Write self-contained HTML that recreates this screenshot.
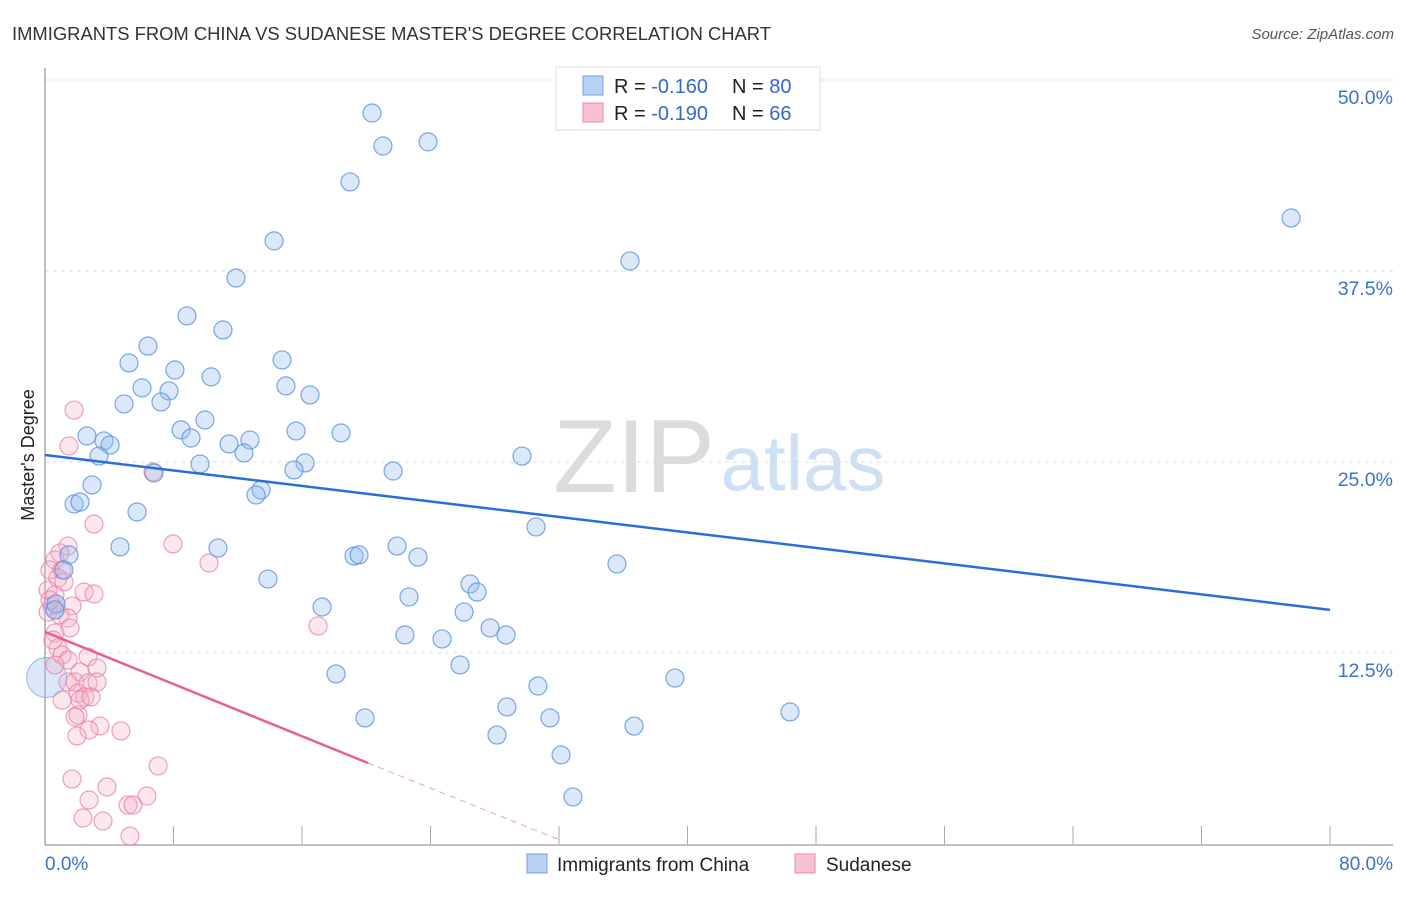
<!DOCTYPE html>
<html><head><meta charset="utf-8"><style>
body{margin:0;background:#fff;font-family:"Liberation Sans",sans-serif;}
svg text{font-family:"Liberation Sans",sans-serif;}
</style></head><body>
<svg id="chart" width="1406" height="892" viewBox="0 0 1406 892">
<text x="12" y="40" font-size="18.4" fill="#333">IMMIGRANTS FROM CHINA VS SUDANESE MASTER'S DEGREE CORRELATION CHART</text>
<text x="1394" y="39" font-size="15" fill="#555" font-style="italic" text-anchor="end">Source: ZipAtlas.com</text>
<g>
<text x="634" y="492" font-size="104" fill="#dcdcdc" font-family="Liberation Serif,serif" text-anchor="middle">ZIP</text>
<text x="803" y="490" font-size="78" fill="#cfe0f5" text-anchor="middle">atlas</text>
</g>
<g id="grid"></g>
<g id="axes"></g>
<g id="marks"></g>
<text transform="translate(34,455) rotate(-90)" font-size="18" fill="#222" text-anchor="middle">Master's Degree</text>
<g>
<rect x="556" y="67" width="264" height="63" fill="#fff" stroke="#ddd"/>
<rect x="583" y="76" width="20" height="19" fill="#b9d2f3" stroke="#6f9fe0"/>
<rect x="583" y="103" width="20" height="19" fill="#f9c2d3" stroke="#e88aaa"/>
<text x="614" y="93" font-size="20" fill="#222">R = <tspan fill="#3468cc">-0.160</tspan></text>
<text x="732" y="93" font-size="20" fill="#222">N = <tspan fill="#3468cc">80</tspan></text>
<text x="614" y="120" font-size="20" fill="#222">R = <tspan fill="#3468cc">-0.190</tspan></text>
<text x="732" y="120" font-size="20" fill="#222">N = <tspan fill="#3468cc"> 66</tspan></text>
</g>
<g>
<rect x="527" y="854" width="20" height="19" fill="#b9d2f3" stroke="#6f9fe0"/>
<text x="557" y="871" font-size="19" fill="#222">Immigrants from China</text>
<rect x="795" y="854" width="20" height="19" fill="#f9c2d3" stroke="#e88aaa"/>
<text x="826" y="871" font-size="19" fill="#222">Sudanese</text>
</g>
</svg>
<script>
const yTicks=[12.5,25,37.5,50];
const yTickLabels=["12.5%","25.0%","37.5%","50.0%"];
const xTicks=[0,8,16,24,32,40,48,56,64,72,80];
const xTickLabels=["0.0%","80.0%"];
const chinaX=[20.36,21.04,23.85,18.99,77.58,14.26,36.42,11.89,8.84,11.08,6.41,14.76,5.23,8.09,10.34,15.0,6.04,7.72,16.5,4.92,7.22,9.96,8.47,15.63,18.43,2.61,3.67,4.05,9.09,11.46,12.76,3.36,12.39,29.7,9.65,16.19,15.5,6.79,21.67,2.93,13.45,13.14,1.81,2.18,5.73,30.57,4.67,10.77,21.92,19.24,19.55,23.22,1.49,35.61,1.18,13.88,26.46,26.9,22.66,17.25,26.09,0.68,27.71,28.7,22.41,24.72,25.84,18.12,39.22,30.69,28.76,46.38,19.92,31.44,36.67,28.14,32.13,32.87,0.62];
const chinaY=[47.84,45.68,45.95,43.33,40.97,39.47,38.16,37.04,34.56,33.64,32.59,31.68,31.48,31.02,30.57,29.98,29.85,29.65,29.39,28.8,28.93,27.75,27.1,27.03,26.9,26.7,26.38,26.11,26.57,26.18,26.44,25.39,25.59,25.39,24.87,24.94,24.48,24.28,24.41,23.5,23.17,22.84,22.25,22.38,21.73,20.75,19.44,19.37,19.5,18.85,18.92,18.78,18.92,18.33,17.93,17.34,17.02,16.49,16.17,15.51,15.18,15.71,14.14,13.68,13.68,13.42,11.72,11.13,10.86,10.34,8.97,8.64,8.25,8.25,7.72,7.13,5.83,3.08,15.32];
const chinaBig=[0.1,10.9];
const sudanX=[1.81,1.49,6.72,3.05,7.97,10.21,1.43,0.93,0.62,0.31,1.06,0.81,1.18,0.19,2.43,3.05,1.68,0.44,0.19,0.93,1.43,17.0,1.56,0.62,0.81,1.06,1.43,2.68,0.62,3.24,2.18,1.43,1.87,2.68,3.24,2.05,2.49,2.18,2.86,2.05,1.87,3.42,2.74,4.73,1.99,7.04,1.68,3.86,2.74,6.35,5.17,5.48,2.37,3.61,5.29,0.62,0.31,0.5,1.06];
const sudanY=[28.4,26.05,24.35,20.94,19.64,18.39,19.5,19.05,18.59,17.93,17.93,17.41,17.15,16.62,16.49,16.36,15.58,15.58,15.18,14.99,14.79,14.27,14.14,13.81,12.83,12.37,12.04,12.24,11.72,11.52,11.26,10.6,10.6,10.54,10.6,9.88,9.62,9.42,9.62,8.44,8.31,7.72,7.46,7.4,7.07,5.11,4.25,3.73,2.88,3.14,2.55,2.55,1.7,1.51,0.52,16.3,15.97,13.35,9.42];
const chinaTrend=[[0,25.46],[80,15.32]];
const sudanTrendSolid=[[0,13.88],[20.11,5.3]];
const sudanTrendDash=[[20.11,5.3],[32.06,0.26]];

const NS="http://www.w3.org/2000/svg";
const X0=45,X1=1330,Y0=844,YPER=191/12.5;
function sx(v){return X0+(v/80)*(X1-X0);}
function sy(v){return Y0-v*YPER;}
function mk(tag,attrs,parent){const e=document.createElementNS(NS,tag);for(const k in attrs)e.setAttribute(k,attrs[k]);parent.appendChild(e);return e;}
const grid=document.getElementById('grid'),axes=document.getElementById('axes'),marks=document.getElementById('marks');
yTicks.forEach((t,i)=>{
 const l=mk('line',{x1:X0,x2:1393,y1:sy(t),y2:sy(t),stroke:'#ddd','stroke-dasharray':'4,4'},grid);
 
 
 const tx=mk('text',{x:1393,y:sy(t)+24,'font-size':19.5,fill:'#3b72cc','text-anchor':'end'},axes);
 tx.textContent=yTickLabels[i];
 
 
});
const ax=mk('line',{x1:X0,x2:X0,y1:68,y2:Y0+1,stroke:'#aaa','stroke-width':1.5},axes);


const bx=mk('line',{x1:X0,x2:1393,y1:Y0+1,y2:Y0+1,stroke:'#aaa','stroke-width':1.5},axes);


xTicks.forEach(t=>{if(t===0)return;
 const l=mk('line',{x1:sx(t),x2:sx(t),y1:Y0-18,y2:Y0,stroke:'#aaa'},axes);
 
 
});
const xl0=mk('text',{x:45,y:870,'font-size':19,fill:'#3b72cc'},axes);xl0.textContent=xTickLabels[0];


const xl1=mk('text',{x:1393,y:870,'font-size':19,fill:'#3b72cc','text-anchor':'end'},axes);xl1.textContent=xTickLabels[1];


function pts(xs,ys,fill,stroke,name){xs.forEach((v,i)=>{
 const c=mk('circle',{cx:sx(v),cy:sy(ys[i]),r:9,fill:fill,stroke:stroke,'stroke-width':1.2},marks);
 
 
});}
const big=mk('circle',{cx:sx(chinaBig[0]),cy:sy(chinaBig[1]),r:20,fill:'rgba(150,188,238,0.35)',stroke:'rgba(90,145,225,0.6)'},marks);


pts(sudanX,sudanY,'rgba(246,175,198,0.3)','rgba(232,130,165,0.75)','sudanese-point');
pts(chinaX,chinaY,'rgba(150,188,238,0.35)','rgba(90,145,225,0.8)','china-point');
function line(p,stroke,dash,name){
 const l=mk('line',{x1:sx(p[0][0]),y1:sy(p[0][1]),x2:sx(p[1][0]),y2:sy(p[1][1]),stroke:stroke,'stroke-width':dash?1:2.5},marks);
 if(dash)l.setAttribute('stroke-dasharray','6,5');
 
 
}
line(chinaTrend,'#2a6fd6',false,'china-trend-line');
line(sudanTrendSolid,'#e8608f',false,'sudanese-trend-line');
line(sudanTrendDash,'#e8a0b8',true,'sudanese-trend-extension');
</script>
</body></html>
